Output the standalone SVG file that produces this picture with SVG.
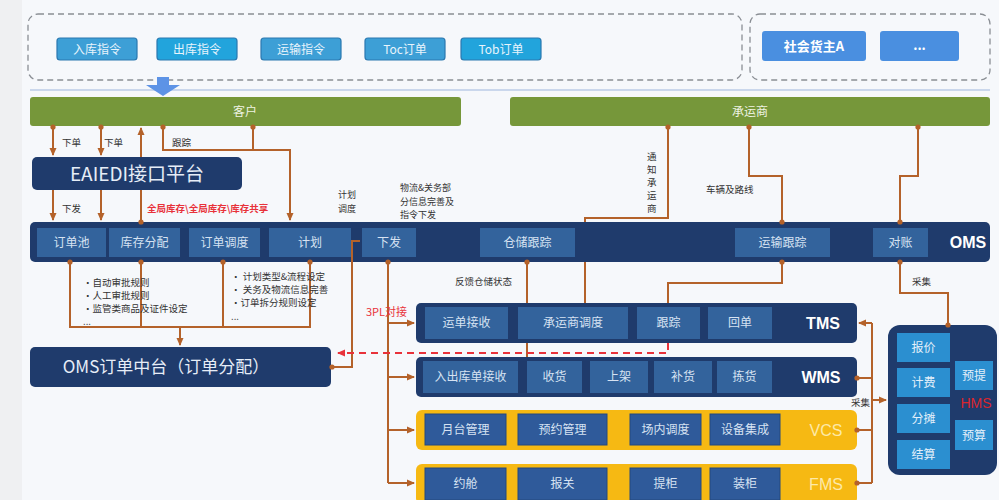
<svg xmlns="http://www.w3.org/2000/svg" width="999" height="500" viewBox="0 0 999 500">
<defs>
<style>
.t{font-family:"Noto Sans CJK SC","Noto Sans",sans-serif;}
.btn{fill:#3d9fd6;stroke:#2a78b0;stroke-width:1.2}
.btn2{fill:#4a8fe0}
.btnt{fill:#e8f4fc;font-size:12px}
.green{fill:#76973a}
.navy{fill:#1f3b6c}
.sub{fill:#33639c}
.subt{fill:#d6e2f2;font-size:12px}
.yel{fill:#f6b913}
.ysub{fill:#2f5a9a;stroke:#24487e;stroke-width:1}
.lbl{fill:#333;font-size:9.5px}
.sm{fill:#333;font-size:9px}
.big{fill:#fff;font-size:16px;font-weight:bold;font-family:"Liberation Sans","Noto Sans",sans-serif}
.ylw{fill:#fde9a8;font-size:16px;font-family:"Liberation Sans","Noto Sans",sans-serif}
.hsub{fill:#2b8fd0}
.c{fill:none;stroke:#b4622a;stroke-width:2}
</style>
<marker id="ar" markerUnits="userSpaceOnUse" markerWidth="8" markerHeight="8" refX="7" refY="4" orient="auto"><path d="M0,0.5 L8,4 L0,7.5 z" fill="#b4622a"/></marker>
<marker id="arr" markerUnits="userSpaceOnUse" markerWidth="8" markerHeight="8" refX="7" refY="4" orient="auto"><path d="M0,0.5 L8,4 L0,7.5 z" fill="#e8323a"/></marker>
<marker id="dt" markerUnits="userSpaceOnUse" markerWidth="6" markerHeight="6" refX="3" refY="3"><circle cx="3" cy="3" r="2.6" fill="#b4622a"/></marker>
</defs>
<rect x="0" y="0" width="999" height="500" fill="#eff0f2"/>
<rect x="22" y="0" width="977" height="500" fill="#f6f8fb"/>

<g id="sources">
<rect x="28" y="14" width="714" height="66" rx="10" fill="none" stroke="#8a8e94" stroke-width="1.3" stroke-dasharray="6 4"/>
<rect x="750" y="14" width="240" height="66" rx="10" fill="none" stroke="#8a8e94" stroke-width="1.3" stroke-dasharray="6 4"/>
<g id="n-inbound"><rect class="btn" x="57" y="38" width="80" height="22" rx="3"/><text class="t btnt" x="97" y="53.5" text-anchor="middle">入库指令</text></g>
<g id="n-outbound"><rect class="btn" x="157" y="38" width="80" height="22" rx="3" style="fill:#22a4dc"/><text class="t btnt" x="197" y="53.5" text-anchor="middle">出库指令</text></g>
<g id="n-transport"><rect class="btn" x="261" y="38" width="80" height="22" rx="3"/><text class="t btnt" x="301" y="53.5" text-anchor="middle">运输指令</text></g>
<g id="n-toc"><rect class="btn" x="365" y="38" width="80" height="22" rx="3"/><text class="t btnt" x="405" y="53.5" text-anchor="middle">Toc订单</text></g>
<g id="n-tob"><rect class="btn" x="461" y="38" width="80" height="22" rx="3" style="fill:#22a4dc"/><text class="t btnt" x="501" y="53.5" text-anchor="middle">Tob订单</text></g>
<g id="n-shipperA"><rect class="btn2" x="762" y="31" width="104" height="30" rx="3"/><text class="t" x="814" y="51" text-anchor="middle" fill="#fff" font-size="13" font-weight="bold">社会货主A</text></g>
<g id="n-more"><rect class="btn2" x="880" y="31" width="79" height="30" rx="3"/><text class="t" x="919.5" y="50" text-anchor="middle" fill="#fff" font-size="13" font-weight="bold">...</text></g>
<line x1="30" y1="90" x2="990" y2="90" stroke="#9db6de" stroke-width="1.2"/>
<path d="M157,77 H169 V85 H180 L163,96 L146,85 H157 z" fill="#5d93e6"/>
</g>

<g id="n-customer"><rect class="green" x="30" y="97" width="431" height="29" rx="3"/><text class="t" x="245" y="116" text-anchor="middle" fill="#eef3e2" font-size="12">客户</text></g>
<g id="n-carrier"><rect class="green" x="510" y="97" width="480" height="29" rx="3"/><text class="t" x="750" y="116" text-anchor="middle" fill="#eef3e2" font-size="12">承运商</text></g>

<g id="n-eaiedi"><rect class="navy" x="32" y="157" width="210" height="33" rx="5"/><text class="t" x="137" y="181" text-anchor="middle" fill="#e6edf7" font-size="19">EAIEDI接口平台</text></g>

<g id="n-oms">
<rect class="navy" x="30" y="222" width="960" height="40" rx="5"/>
<rect class="sub" x="37" y="228" width="69" height="29"/><text class="t subt" x="71.5" y="247" text-anchor="middle">订单池</text>
<rect class="sub" x="109" y="228" width="71" height="29"/><text class="t subt" x="144.5" y="247" text-anchor="middle">库存分配</text>
<rect class="sub" x="189" y="228" width="71" height="29"/><text class="t subt" x="224.5" y="247" text-anchor="middle">订单调度</text>
<rect class="sub" x="269" y="228" width="82" height="29"/><text class="t subt" x="310" y="247" text-anchor="middle">计划</text>
<rect class="sub" x="362" y="228" width="54" height="29"/><text class="t subt" x="389" y="247" text-anchor="middle">下发</text>
<rect class="sub" x="480" y="228" width="95" height="29"/><text class="t subt" x="527.5" y="247" text-anchor="middle">仓储跟踪</text>
<rect class="sub" x="735" y="228" width="95" height="29"/><text class="t subt" x="782.5" y="247" text-anchor="middle">运输跟踪</text>
<rect class="sub" x="873" y="228" width="55" height="29"/><text class="t subt" x="900.5" y="247" text-anchor="middle">对账</text>
<text class="big" x="968" y="248" text-anchor="middle">OMS</text>
</g>

<g id="n-omscenter"><rect class="navy" x="30" y="347" width="301" height="40" rx="5"/><text class="t" x="166" y="373" text-anchor="middle" fill="#e6edf7" font-size="17">OMS订单中台（订单分配）</text></g>

<g id="n-tms">
<rect class="navy" x="416" y="303" width="441" height="40" rx="5"/>
<rect class="sub" x="425" y="307" width="83" height="32"/><text class="t subt" x="466.5" y="327" text-anchor="middle">运单接收</text>
<rect class="sub" x="518" y="307" width="110" height="32"/><text class="t subt" x="573" y="327" text-anchor="middle">承运商调度</text>
<rect class="sub" x="637" y="307" width="63" height="32"/><text class="t subt" x="668.5" y="327" text-anchor="middle">跟踪</text>
<rect class="sub" x="708" y="307" width="64" height="32"/><text class="t subt" x="740" y="327" text-anchor="middle">回单</text>
<text class="big" x="823" y="329" text-anchor="middle">TMS</text>
</g>

<g id="n-wms">
<rect class="navy" x="416" y="357" width="441" height="40" rx="5"/>
<rect class="sub" x="423" y="361" width="95" height="32"/><text class="t subt" x="470.5" y="381" text-anchor="middle">入出库单接收</text>
<rect class="sub" x="527" y="361" width="55" height="32"/><text class="t subt" x="554.5" y="381" text-anchor="middle">收货</text>
<rect class="sub" x="590" y="361" width="58" height="32"/><text class="t subt" x="619" y="381" text-anchor="middle">上架</text>
<rect class="sub" x="654" y="361" width="58" height="32"/><text class="t subt" x="683" y="381" text-anchor="middle">补货</text>
<rect class="sub" x="717" y="361" width="55" height="32"/><text class="t subt" x="744.5" y="381" text-anchor="middle">拣货</text>
<text class="big" x="821" y="383" text-anchor="middle">WMS</text>
</g>

<g id="n-vcs">
<rect class="yel" x="416" y="410" width="441" height="40" rx="6"/>
<rect class="ysub" x="425" y="414" width="81" height="31"/><text class="t subt" x="465.5" y="434" text-anchor="middle">月台管理</text>
<rect class="ysub" x="518" y="414" width="89" height="31"/><text class="t subt" x="562.5" y="434" text-anchor="middle">预约管理</text>
<rect class="ysub" x="630" y="414" width="71" height="31"/><text class="t subt" x="665.5" y="434" text-anchor="middle">场内调度</text>
<rect class="ysub" x="710" y="414" width="70" height="31"/><text class="t subt" x="745" y="434" text-anchor="middle">设备集成</text>
<text class="ylw" x="826" y="436" text-anchor="middle">VCS</text>
</g>

<g id="n-fms">
<rect class="yel" x="416" y="464" width="441" height="40" rx="6"/>
<rect class="ysub" x="425" y="468" width="81" height="32"/><text class="t subt" x="465.5" y="488" text-anchor="middle">约舱</text>
<rect class="ysub" x="518" y="468" width="89" height="32"/><text class="t subt" x="562.5" y="488" text-anchor="middle">报关</text>
<rect class="ysub" x="630" y="468" width="71" height="32"/><text class="t subt" x="665.5" y="488" text-anchor="middle">提柜</text>
<rect class="ysub" x="710" y="468" width="70" height="32"/><text class="t subt" x="745" y="488" text-anchor="middle">装柜</text>
<text class="ylw" x="826" y="490" text-anchor="middle">FMS</text>
</g>

<g id="n-hms">
<rect class="navy" x="888" y="325" width="109" height="150" rx="12"/>
<rect class="hsub" x="897" y="333" width="53" height="29"/><text class="t subt" x="923.5" y="352" text-anchor="middle" style="fill:#e4f0fa">报价</text>
<rect class="hsub" x="897" y="368" width="53" height="29"/><text class="t subt" x="923.5" y="387" text-anchor="middle" style="fill:#e4f0fa">计费</text>
<rect class="hsub" x="897" y="404" width="53" height="29"/><text class="t subt" x="923.5" y="423" text-anchor="middle" style="fill:#e4f0fa">分摊</text>
<rect class="hsub" x="897" y="440" width="53" height="29"/><text class="t subt" x="923.5" y="459" text-anchor="middle" style="fill:#e4f0fa">结算</text>
<rect class="hsub" x="955" y="361" width="38" height="29"/><text class="t subt" x="974" y="380" text-anchor="middle" style="fill:#e4f0fa">预提</text>
<rect class="hsub" x="955" y="420" width="38" height="30"/><text class="t subt" x="974" y="440" text-anchor="middle" style="fill:#e4f0fa">预算</text>
<text x="976" y="408" text-anchor="middle" fill="#d9262e" font-size="14" font-family="Liberation Sans, sans-serif">HMS</text>
</g>

<g id="connectors">
<path class="c" d="M53,127 V155" marker-start="url(#dt)" marker-end="url(#ar)"/>
<path class="c" d="M53,190 V220" marker-end="url(#ar)"/>
<path class="c" d="M101,127 V155" marker-start="url(#dt)" marker-end="url(#ar)"/>
<path class="c" d="M101,190 V220" marker-end="url(#ar)"/>
<path class="c" d="M141,222 V190" marker-start="url(#dt)"/>
<path class="c" d="M141,157 V128" marker-end="url(#ar)"/>
<path class="c" d="M163,127 V150 H290 V220" marker-start="url(#dt)" marker-end="url(#ar)"/>
<path class="c" d="M253,127 V150" marker-start="url(#dt)"/>
<path class="c" d="M668,127 V218 H585 V222" marker-start="url(#dt)"/>
<path class="c" d="M749,127 V176 H782 V222" marker-start="url(#dt)" marker-end="url(#dt)"/>
<path class="c" d="M918,127 V176 H900 V222" marker-start="url(#dt)" marker-end="url(#dt)"/>
<path class="c" d="M70,262 V327 H310 V262" marker-start="url(#dt)" marker-end="url(#dt)"/>
<path class="c" d="M141,262 V327" marker-start="url(#dt)"/>
<path class="c" d="M223,262 V327" marker-start="url(#dt)"/>
<path class="c" d="M180,327 V345" marker-end="url(#ar)"/>
<path class="c" d="M332,367 H352 V241 H360" marker-start="url(#dt)"/>
<path class="c" d="M388,262 V483" marker-start="url(#dt)"/>
<path class="c" d="M388,323 H414" marker-end="url(#ar)"/>
<path class="c" d="M388,377 H414" marker-end="url(#ar)"/>
<path class="c" d="M388,430 H414" marker-end="url(#ar)"/>
<path class="c" d="M388,483 H414" marker-end="url(#ar)"/>
<path class="c" d="M527,262 V303" marker-start="url(#dt)"/>
<path class="c" d="M527,343 V357"/>
<path class="c" d="M585,262 V303"/>
<path class="c" d="M782,262 V283 H668 V303" marker-start="url(#dt)"/>
<path d="M668,343 V353 H338" fill="none" stroke="#e8323a" stroke-width="2" stroke-dasharray="7 5" marker-end="url(#arr)"/>
<path class="c" d="M900,262 V293 H948 V325" marker-start="url(#dt)" marker-end="url(#dt)"/>
<path class="c" d="M872,323 H859" marker-end="url(#ar)"/>
<path class="c" d="M872,323 V483"/>
<path class="c" d="M857,378 H872" marker-start="url(#dt)"/>
<path class="c" d="M857,430 H872" marker-start="url(#dt)"/>
<path class="c" d="M857,483 H872" marker-start="url(#dt)"/>
<path class="c" d="M872,400 H886" marker-end="url(#ar)"/>
</g>

<g id="labels" class="t">
<text class="lbl" x="62" y="146">下单</text>
<text class="lbl" x="104" y="146">下单</text>
<text class="lbl" x="172" y="146">跟踪</text>
<text class="lbl" x="62" y="212">下发</text>
<text x="147" y="212" fill="#e8323a" font-size="9.5" font-weight="bold">全局库存\全局库存\库存共享</text>
<text class="sm" x="338" y="198">计划</text>
<text class="sm" x="338" y="212">调度</text>
<text class="sm" x="400" y="191">物流&amp;关务部</text>
<text class="sm" x="400" y="204.5">分信息完善及</text>
<text class="sm" x="400" y="218">指令下发</text>
<text class="lbl" x="647" y="160">通</text>
<text class="lbl" x="647" y="173">知</text>
<text class="lbl" x="647" y="186">承</text>
<text class="lbl" x="647" y="199">运</text>
<text class="lbl" x="647" y="212">商</text>
<text class="lbl" x="706" y="193">车辆及路线</text>
<text class="lbl" x="83" y="286">•自动审批规则</text>
<text class="lbl" x="83" y="299">•人工审批规则</text>
<text class="lbl" x="83" y="312">•监管类商品及证件设定</text>
<text class="lbl" x="83" y="325">...</text>
<text class="lbl" x="231" y="280">• 计划类型&amp;流程设定</text>
<text class="lbl" x="231" y="293">•  关务及物流信息完善</text>
<text class="lbl" x="231" y="306">•订单拆分规则设定</text>
<text class="lbl" x="231" y="320">...</text>
<text class="lbl" x="455" y="285">反馈仓储状态</text>
<text class="lbl" x="912" y="285">采集</text>
<text class="lbl" x="851" y="406">采集</text>
<text x="366" y="316" fill="#e8323a" font-size="11">3PL对接</text>
</g>
</svg>
